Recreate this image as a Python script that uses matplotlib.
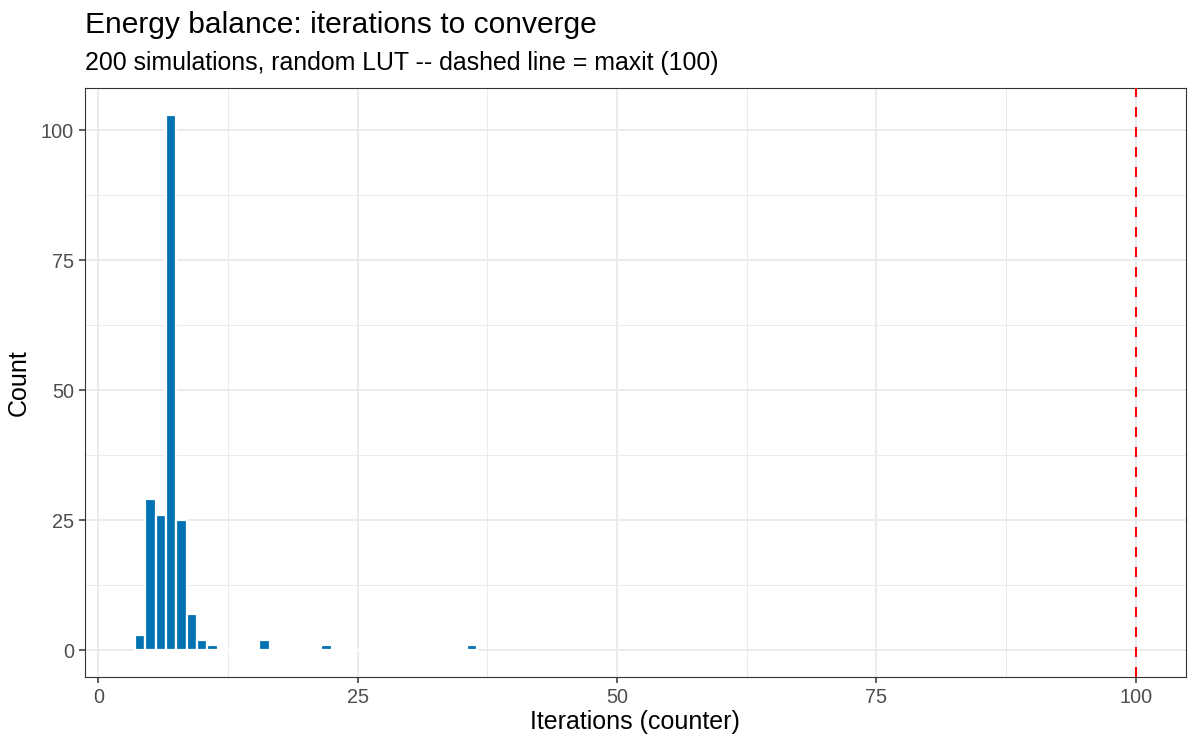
import numpy as np
import matplotlib.pyplot as plt

# iterations needed per simulation (counter value -> number of runs)
iterations = [4, 5, 6, 7, 8, 9, 10, 11, 16, 22, 36]
counts = [3, 29, 26, 103, 25, 7, 2, 1, 2, 1, 1]
maxit = 100

x_ticks = [0, 25, 50, 75, 100]
y_ticks = [0, 25, 50, 75, 100]

plt.rcParams['font.family'] = ['Liberation Sans', 'DejaVu Sans']

# full set of bins (binwidth 1), empty ones drawn at zero
bins = np.arange(min(iterations), max(iterations) + 1)
lookup = dict(zip(iterations, counts))
heights = [lookup.get(b, 0) for b in bins]

fig = plt.figure(figsize=(12, 7.5), dpi=100)
ax = fig.add_axes([0.0708, 0.0973, 0.9172, 0.7854])

ax.set_xlim(-1.3, 104.8)
ax.set_ylim(-5.15, 108.15)

# grid
for v in [12.5, 37.5, 62.5, 87.5]:
    ax.axvline(v, color='#EBEBEB', lw=0.7, zorder=0)
    ax.axhline(v, color='#EBEBEB', lw=0.7, zorder=0)
for v in x_ticks:
    ax.axvline(v, color='#EBEBEB', lw=1.4, zorder=0)
for v in y_ticks:
    ax.axhline(v, color='#EBEBEB', lw=1.4, zorder=0)

ax.bar(bins, heights, width=1.0, color='#0072B2', edgecolor='white',
       linewidth=1.6, zorder=2)
# zero-height bins still leave a white outline along y = 0
ax.plot([bins[0] - 0.5, bins[-1] + 0.5], [0, 0], color='white', lw=1.6, zorder=1.5)

ax.axvline(maxit, color='red', lw=1.5, linestyle=(0, (4.8, 4.8)), zorder=3)

ax.set_xticks(x_ticks)
ax.set_yticks(y_ticks)
ax.tick_params(axis='both', colors='#333333', labelcolor='#4D4D4D',
               labelsize=14.3, length=4.5, width=1.1, direction='out', pad=3.5)

for s in ax.spines.values():
    s.set_color('#333333')
    s.set_linewidth(0.8)

ax.set_xlabel('Iterations (counter)', fontsize=18, color='black')
ax.set_ylabel('Count', fontsize=18, color='black')
ax.xaxis.set_label_coords(0.5, -0.056)
ax.yaxis.set_label_coords(-0.049, 0.5)

fig.text(0.0708, 0.956, 'Energy balance: iterations to converge',
         fontsize=21.6, ha='left', va='baseline', color='black')
fig.text(0.0708, 0.9067, '200 simulations, random LUT -- dashed line = maxit (100)',
         fontsize=17.9, ha='left', va='baseline', color='black')

fig.savefig('out.png', dpi=100)
